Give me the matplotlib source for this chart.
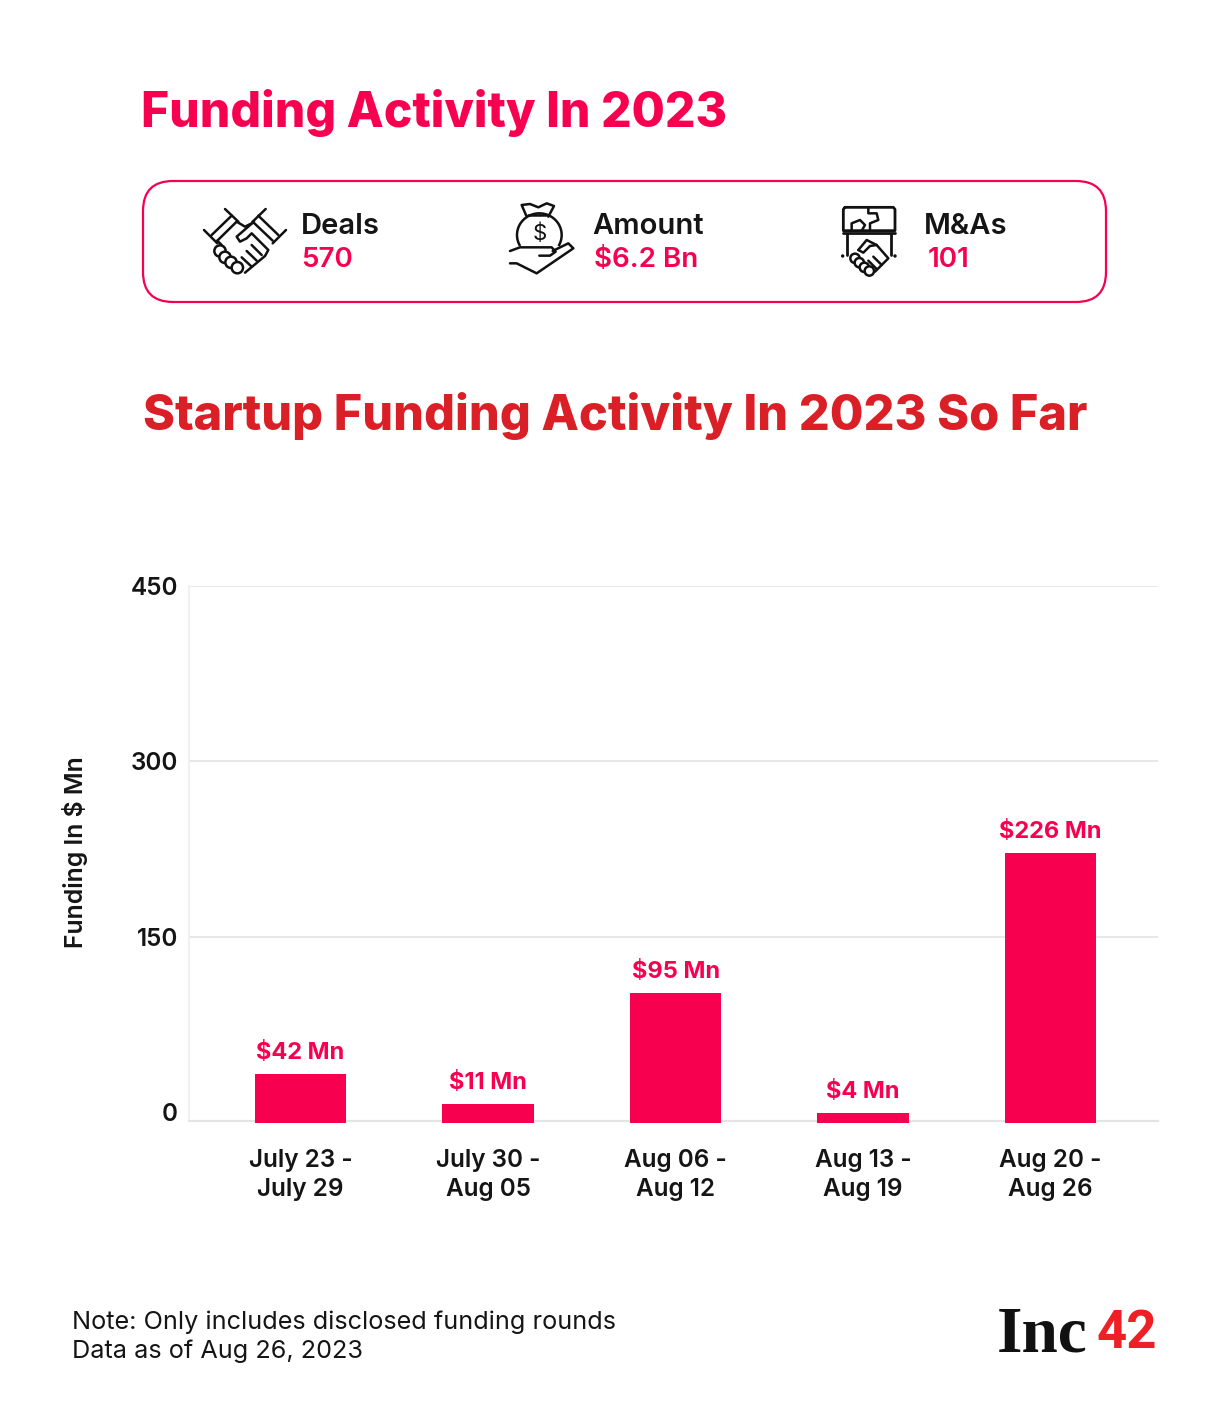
import matplotlib
matplotlib.use('Agg')
import matplotlib.pyplot as plt
from matplotlib.patches import FancyBboxPatch, Circle, Arc

W, H = 1220, 1417
PINK = '#F80050'
RED = '#DA1F26'
DARK = '#151515'
GRID = '#E4E4E4'

plt.rcParams['font.family'] = ['Inter', 'DejaVu Sans']

# chart values
weeks = ['July 23 -\nJuly 29', 'July 30 -\nAug 05', 'Aug 06 -\nAug 12', 'Aug 13 -\nAug 19', 'Aug 20 -\nAug 26']
bar_tops = [33, 7.5, 102, -0.5, 222]
bar_labels = ['$42 Mn', '$11 Mn', '$95 Mn', '$4 Mn', '$226 Mn']
y_ticks = [0, 150, 300, 450]
summary_heads = ['Deals', 'Amount', 'M&As']
summary_vals = ['570', '$6.2 Bn', '101']

fig = plt.figure(figsize=(W / 100, H / 100), dpi=100, facecolor='white')

# overlay in pixel coordinates for the header, icons and footer
bg = fig.add_axes([0, 0, 1, 1])
bg.set_xlim(0, W)
bg.set_ylim(H, 0)
bg.axis('off')

bg.text(141, 113, 'Funding Activity In 2023', color=PINK, fontsize=34.6, fontweight='heavy', va='center')
bg.text(143, 416, 'Startup Funding Activity In 2023 So Far', color=RED, fontsize=35, fontweight='heavy', va='center')

bg.add_patch(FancyBboxPatch((143, 181), 963, 121, boxstyle='round,pad=0,rounding_size=30',
                            fc='white', ec=PINK, lw=1.6))

head_x = [301, 592, 924]
val_x = [301, 594, 928]
for hx, vx, head, val in zip(head_x, val_x, summary_heads, summary_vals):
    bg.text(hx, 227, head, color=DARK, fontsize=21, fontweight='semibold', va='center')
    bg.text(vx, 260, val, color=PINK, fontsize=20, fontweight='semibold', va='center')


def stroke(points, ox, oy, lw=1.8):
    xs = [ox + p[0] / 3 for p in points]
    ys = [oy + p[1] / 3 for p in points]
    bg.plot(xs, ys, color='#111111', lw=lw, solid_capstyle='round', solid_joinstyle='round')


def ring(cx, cy, r, ox, oy):
    bg.add_patch(Circle((ox + cx / 3, oy + cy / 3), r / 3, fc='white', ec='#111111', lw=1.8, zorder=3))


# handshake icon
ox, oy = 130, 170
for seg in [[(222, 180), (262, 220)], [(285, 117), (325, 155)], [(245, 195), (305, 137)], [(262, 212), (320, 155)],
            [(407, 117), (368, 155)], [(468, 180), (428, 220)], [(385, 137), (445, 195)], [(368, 155), (428, 212)],
            [(320, 155), (345, 170), (365, 160)], [(262, 212), (275, 225)],
            [(372, 155), (320, 200), (330, 215), (350, 205), (365, 190), (415, 240), (405, 258), (345, 308)],
            [(365, 225), (395, 255)], [(350, 243), (380, 272)], [(335, 262), (365, 290)]]:
    stroke(seg, ox, oy)
for c in [(270, 243), (285, 262), (303, 277), (322, 293)]:
    ring(c[0], c[1], 17, ox, oy)

# money bag icon
stroke([(1190, 140), (1175, 105), (1200, 102), (1225, 112), (1250, 100), (1272, 108), (1255, 140)], ox, oy)
stroke([(1195, 135), (1255, 135)], ox, oy)
bg.add_patch(Arc((ox + 1228 / 3, oy + 195 / 3), 134 / 3, 130 / 3, theta1=150, theta2=30, ec='#111111', lw=1.8))
bg.text(ox + 1228 / 3, oy + 190 / 3, '$', color='#111111', fontsize=16, ha='center', va='center')
stroke([(1140, 243), (1170, 232), (1265, 232), (1277, 245), (1260, 257), (1228, 257)], ox, oy)
stroke([(1268, 243), (1315, 220), (1330, 235), (1220, 310), (1160, 280), (1140, 280)], ox, oy)

# puzzle + handshake icon
ox = 620
stroke([(675, 112), (820, 112), (825, 118), (825, 182), (670, 182), (670, 118), (675, 112)], ox, oy, lw=2)
stroke([(668, 190), (825, 190)], ox, oy, lw=2)
stroke([(745, 112), (745, 130), (770, 130), (775, 150), (750, 160), (750, 182)], ox, oy)
stroke([(695, 182), (695, 160), (720, 150), (735, 165), (725, 182)], ox, oy)
stroke([(682, 192), (682, 255)], ox, oy, lw=2)
stroke([(812, 192), (812, 255)], ox, oy, lw=2)
stroke([(715, 240), (740, 210), (770, 225), (805, 265), (765, 305)], ox, oy)
stroke([(715, 240), (730, 248), (750, 228), (770, 225)], ox, oy)
stroke([(760, 260), (785, 285)], ox, oy)
stroke([(745, 272), (770, 297)], ox, oy)
for c in [(705, 265), (718, 278), (733, 292), (748, 303)]:
    ring(c[0], c[1], 14, ox, oy)
for c in [(668, 258), (825, 258)]:
    bg.add_patch(Circle((ox + c[0] / 3, oy + c[1] / 3), 1.7, fc='#111111', ec='none'))

# chart axes, placed so the ticks land where the reference has them
px_left, px_right = 189, 1158
px_top, px_base = 586, 1121
ax = fig.add_axes([px_left / W, 1 - px_base / H, (px_right - px_left) / W, (px_base - px_top) / H])
ax.patch.set_alpha(0)
base = -7.3
ax.set_ylim(base, 450)
ax.set_xlim(-0.595, 4.573)

x = list(range(len(weeks)))
ax.bar(x, [t - base + 1.5 for t in bar_tops], bottom=base - 1.5, width=0.487, color=PINK, zorder=3, clip_on=False)
for i, top, lab in zip(x, bar_tops, bar_labels):
    ax.annotate(lab, (i, top), xytext=(0, 15.2), textcoords='offset points', ha='center', va='center',
                color=PINK, fontsize=17, fontweight='bold')

ax.set_yticks(y_ticks)
ax.set_yticklabels([str(t) for t in y_ticks], fontsize=17.5, fontweight='semibold', color=DARK)
ax.set_xticks(x)
ax.set_xticklabels(weeks, fontsize=17.5, fontweight='semibold', color=DARK, linespacing=1.33)
ax.tick_params(axis='both', length=0)
ax.tick_params(axis='y', pad=8)
ax.tick_params(axis='x', pad=20)
for t in y_ticks[1:]:
    ax.axhline(t, color=GRID, lw=1.2, zorder=1)
for s in ['top', 'right']:
    ax.spines[s].set_visible(False)
ax.spines['left'].set_color('#EEEEEE')
ax.spines['left'].set_linewidth(1.2)
ax.spines['bottom'].set_color(GRID)
ax.spines['bottom'].set_linewidth(1.6)

bg.text(75, 852, 'Funding In $ Mn', rotation=90, fontsize=17.8, fontweight='semibold', color=DARK, ha='center', va='center')

# footer
bg.text(72, 1322, 'Note: Only includes disclosed funding rounds', fontsize=18.2, color=DARK, va='center')
bg.text(72, 1351, 'Data as of Aug 26, 2023', fontsize=18.2, color=DARK, va='center')
bg.text(997, 1336, 'Inc', fontsize=47, fontweight='bold', family='Liberation Serif', color='#111111', va='center')
bg.text(1097, 1333, '42', fontsize=38, fontweight='bold', family='Roboto', color='#EE2026', va='center')

fig.savefig('out.png', dpi=100, facecolor='white')
